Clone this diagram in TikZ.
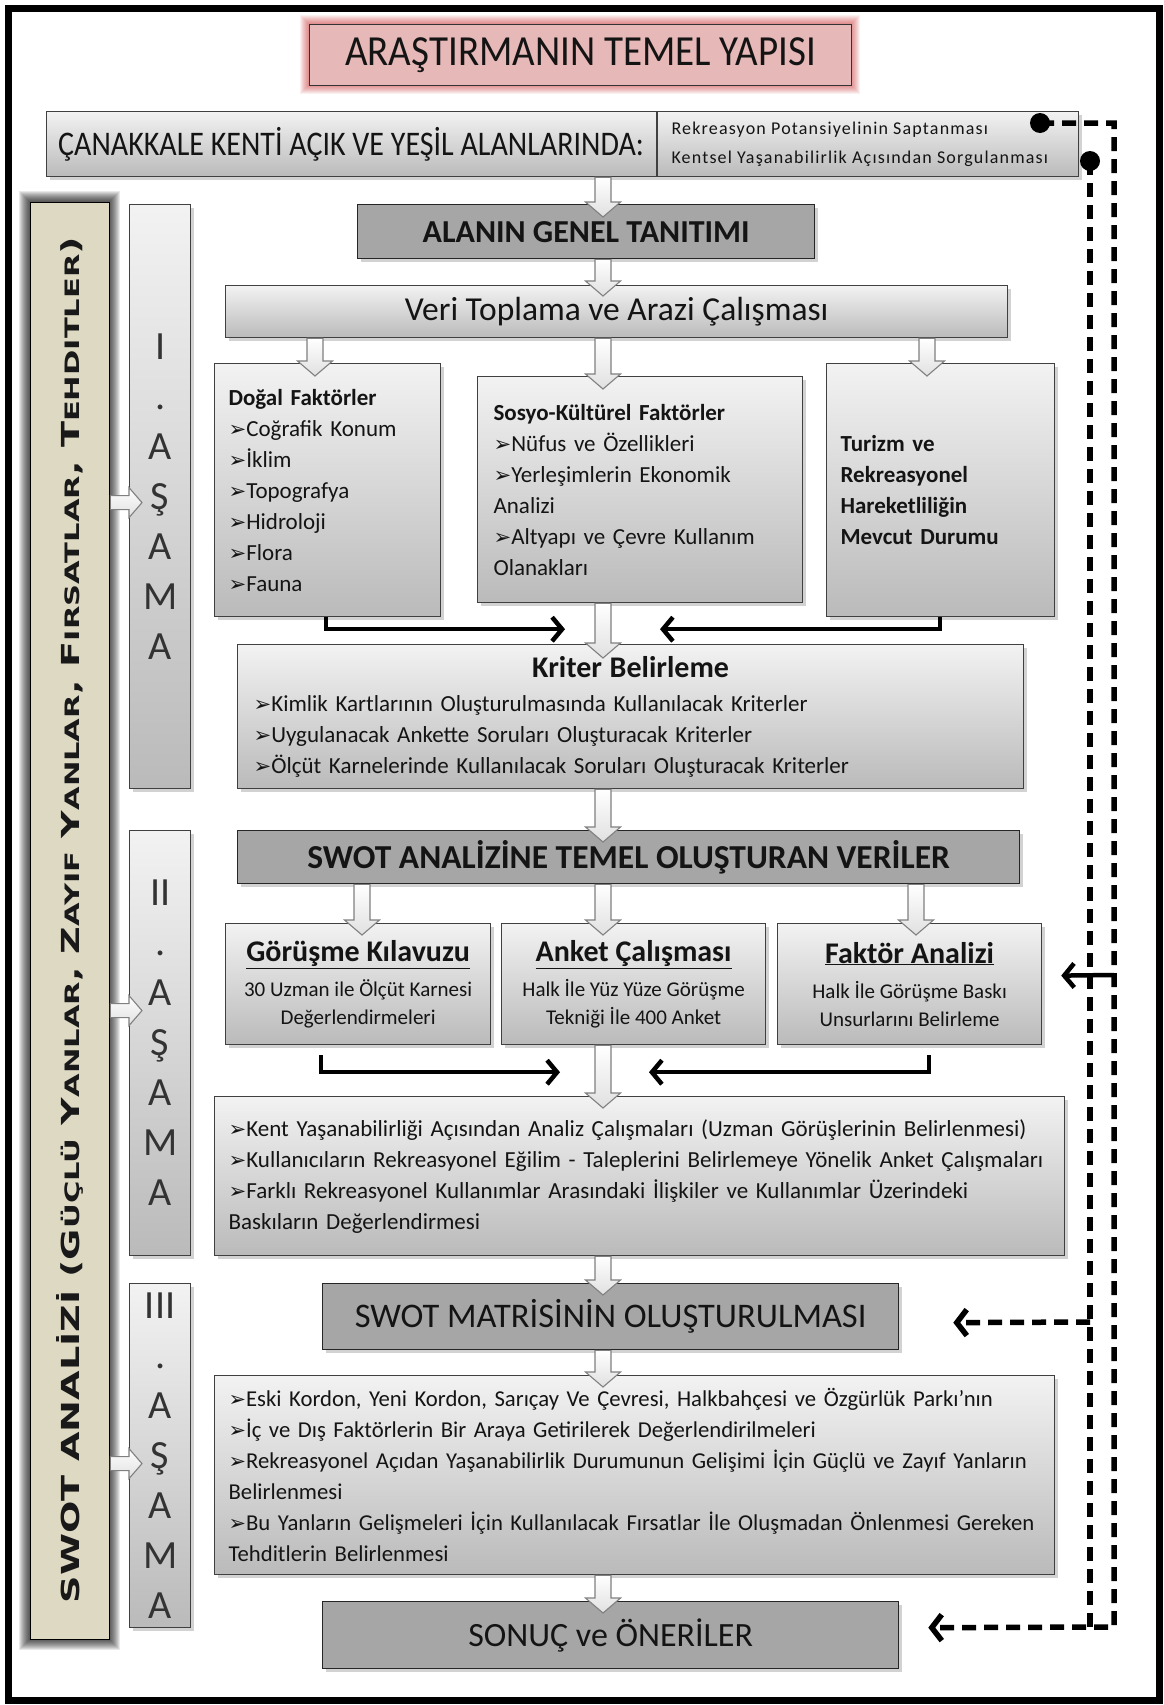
\documentclass[tikz,border=0pt]{standalone}
\usepackage{fontspec}
\usepackage{graphicx}
\setmainfont{Carlito}
\newfontfamily\djv{DejaVu Sans}
\usetikzlibrary{calc,shadows,arrows.meta}
\newcommand\bul{{\djv\bfseries\scalebox{0.92}{➢}}}
\newcommand\smc[1]{{\fontsize{8}{8}\selectfont #1}}
\newcommand\fs[2]{\fontsize{#1}{#2}\selectfont}
\newcommand\bdown[2]{\path[barrow] let \p1=(#1), \p2=(#2) in (\x1-8pt,\y1) -- (\x1+8pt,\y1) -- (\x1+8pt,\y2+15pt) -- (\x1+17.5pt,\y2+15pt) -- (\x1,\y2) -- (\x1-17.5pt,\y2+15pt) -- (\x1-8pt,\y2+15pt) -- cycle;}
\newcommand\bright[2]{\path[barrow] let \p1=(#1), \p2=(#2) in (\x1,\y1+7pt) -- (\x2-13pt,\y1+7pt) -- (\x2-13pt,\y1+15pt) -- (\x2,\y1) -- (\x2-13pt,\y1-15pt) -- (\x2-13pt,\y1-7pt) -- (\x1,\y1-7pt) -- cycle;}
\begin{document}
\begin{tikzpicture}[x=1pt,y=-1pt,
  shd/.style={drop shadow={shadow xshift=3pt,shadow yshift=-3pt,opacity=0.35}},
  lightbox/.style={draw=black!75,line width=1.2pt,top color=black!5,bottom color=black!27,shd,inner sep=0pt,text=black!92},
  darkbox/.style={draw=black!85,line width=1.3pt,fill=black!35,shd,inner sep=0pt,text=black!92},
  titlebox/.style={draw=black!80,line width=1.3pt,fill={rgb,255:red,230;green,184;blue,183},inner sep=0pt,text=black!92},
  stagebox/.style={lightbox,text=black!80,align=center,font=\fs{40}{50}},
  barrow/.style={draw=black!50,line width=1.1pt,top color=white,bottom color=black!12},
  blk/.style={line width=4.5pt,-{Straight Barb[length=10pt,width=24pt]}},
  dashline/.style={line width=5.5pt,dash pattern=on 14pt off 8pt},
  dotn/.style={circle,fill=black,minimum size=20pt,inner sep=0pt},
  body/.style={align=left,font=\fs{23}{31}},
]
\useasboundingbox (0,0) rectangle (1163,1705);
\fill[white] (0,0) rectangle (1163,1705);
\draw[line width=7pt] (8,8) rectangle (1159,1700);

% title
\foreach \i in {1,...,9} {\fill[red!75!black,opacity=0.06] (309-\i,24-\i) rectangle (851+\i,85+\i);}
\node[titlebox,minimum width=542pt,minimum height=61pt,anchor=north west,font=\fs{39}{39}] (title) at (309,24) {\scalebox{1}[1.1]{ARAŞTIRMANIN TEMEL YAPISI}};

% top box
\node[lightbox,minimum width=1032pt,minimum height=65pt,anchor=north west] (ca) at (46,111) {};
\draw[line width=1.2pt,black!75] ($(ca.north west)+(611,0)$) -- ($(ca.south west)+(611,0)$);
\node[font=\fs{30}{30},text=black!92] (cal) at (351,144) {\scalebox{1}[1.15]{ÇANAKKALE KENTİ AÇIK VE YEŞİL ALANLARINDA:}};
\node[anchor=west,align=left,font=\fs{18}{29}\addfontfeature{LetterSpace=6.5},text=black!92] (car) at (668,144) {Rekreasyon Potansiyelinin Saptanması\\Kentsel Yaşanabilirlik Açısından Sorgulanması};

\coordinate (spine) at (603,0);
\coordinate (c1) at (315,0);
\coordinate (c3) at (927,0);
\coordinate (d1) at (362,0);
\coordinate (d3) at (916,0);
\coordinate (e1) at (326,0);
\coordinate (e3) at (940,0);
\coordinate (f1) at (321,0);
\coordinate (f3) at (929,0);

% main column
\node[darkbox,minimum width=457pt,minimum height=54pt,anchor=north west,font=\fs{32}{32}\bfseries] (alan) at (357,204) {ALANIN GENEL TANITIMI};
\node[lightbox,minimum width=782pt,minimum height=52pt,anchor=north west,font=\fs{33.5}{33.5}] (veri) at (225,285) {Veri Toplama ve Arazi Çalışması};

\node[lightbox,body,minimum width=226pt,minimum height=253pt,text width=198pt,inner xsep=14pt,anchor=north west] (dogal) at (214,363)
 {\textbf{Doğal Faktörler}\\\bul Coğrafik Konum\\\bul İklim\\\bul Topografya\\\bul Hidroloji\\\bul Flora\\\bul Fauna};
\node[lightbox,body,minimum width=325pt,minimum height=226pt,text width=293pt,inner xsep=16pt,anchor=north west] (sosyo) at (477,376)
 {\textbf{Sosyo-Kültürel Faktörler}\\\bul Nüfus ve Özellikleri\\\bul Yerleşimlerin Ekonomik\\Analizi\\\bul Altyapı ve Çevre Kullanım\\Olanakları};
\node[lightbox,body,minimum width=228pt,minimum height=253pt,text width=200pt,inner xsep=14pt,anchor=north west,font=\fs{23}{31}\bfseries] (turizm) at (826,363)
 {Turizm ve\\Rekreasyonel\\Hareketliliğin\\Mevcut Durumu};

\node[lightbox,body,minimum width=782pt,minimum height=144pt,text width=754pt,inner xsep=16pt,anchor=north west] (kriter) at (237,644)
 {\makebox[754pt]{\fs{30}{31}\bfseries Kriter Belirleme}\\[3pt]\bul Kimlik Kartlarının Oluşturulmasında Kullanılacak Kriterler\\\bul Uygulanacak Ankette Soruları Oluşturacak Kriterler\\\bul Ölçüt Karnelerinde Kullanılacak Soruları Oluşturacak Kriterler};

\node[darkbox,minimum width=782pt,minimum height=53pt,anchor=north west,font=\fs{33.5}{33.5}\bfseries] (swotv) at (237,830) {SWOT ANALİZİNE TEMEL OLUŞTURAN VERİLER};

\node[lightbox,align=center,minimum width=265pt,minimum height=121pt,anchor=north west,font=\fs{21}{28}] (gorusme) at (225,923)
 {{\fs{30}{28}\bfseries\underline{Görüşme Kılavuzu}}\\[7pt]30 Uzman ile Ölçüt Karnesi\\Değerlendirmeleri};
\node[lightbox,align=center,minimum width=264pt,minimum height=121pt,anchor=north west,font=\fs{21}{28}] (anket) at (501,923)
 {{\fs{30}{28}\bfseries\underline{Anket Çalışması}}\\[7pt]Halk İle Yüz Yüze  Görüşme\\Tekniği İle 400 Anket};
\node[lightbox,align=center,minimum width=264pt,minimum height=121pt,anchor=north west,font=\fs{21}{28}] (faktor) at (777,923)
 {{\fs{30}{28}\bfseries\underline{Faktör Analizi}}\\[7pt]Halk İle Görüşme Baskı\\Unsurlarını Belirleme};

\node[lightbox,body,minimum width=850pt,minimum height=159pt,text width=822pt,inner xsep=14pt,anchor=north west] (analiz) at (214,1096)
 {\mbox{\bul Kent Yaşanabilirliği Açısından Analiz Çalışmaları (Uzman Görüşlerinin Belirlenmesi)}\\\mbox{\bul Kullanıcıların Rekreasyonel Eğilim  - Taleplerini Belirlemeye Yönelik Anket Çalışmaları}\\\mbox{\bul Farklı Rekreasyonel Kullanımlar Arasındaki İlişkiler ve Kullanımlar Üzerindeki}\\Baskıların Değerlendirmesi};

\node[darkbox,minimum width=576pt,minimum height=66pt,anchor=north west,font=\fs{34.5}{34.5}] (matris) at (322,1283) {SWOT MATRİSİNİN OLUŞTURULMASI};

\node[lightbox,body,minimum width=840pt,minimum height=199pt,text width=812pt,inner xsep=14pt,anchor=north west,font=\fs{22.7}{31}] (eski) at (214,1375)
 {\mbox{\bul Eski Kordon, Yeni Kordon, Sarıçay Ve Çevresi, Halkbahçesi ve Özgürlük Parkı’nın}\\\mbox{\bul İç ve Dış Faktörlerin Bir Araya Getirilerek Değerlendirilmeleri}\\\mbox{\bul Rekreasyonel Açıdan Yaşanabilirlik Durumunun Gelişimi İçin Güçlü ve Zayıf Yanların}\\Belirlenmesi\\\mbox{\bul Bu Yanların Gelişmeleri İçin Kullanılacak Fırsatlar İle Oluşmadan Önlenmesi Gereken}\\Tehditlerin Belirlenmesi};

\node[darkbox,minimum width=576pt,minimum height=67pt,anchor=north west,font=\fs{34}{34}] (sonuc) at (322,1601) {SONUÇ ve ÖNERİLER};

% left side
\foreach \i in {1,...,11} {\fill[black,opacity=0.085] (30-\i,202-\i) rectangle (109+\i,1639+\i);}
\node[draw=black,line width=1.3pt,fill={rgb,255:red,221;green,217;blue,195},minimum width=79pt,minimum height=1437pt,anchor=north west,inner sep=0pt] (swotbox) at (30,202) {};
\node[rotate=90,text=black!90] (swottext) at (70,920) {\resizebox{1366pt}{23pt}{\djv\bfseries\fs{10}{10}SWOT ANALİZİ (G\smc{ÜÇLÜ} Y\smc{ANLAR}, Z\smc{AYIF} Y\smc{ANLAR}, F\smc{IRSATLAR}, T\smc{EHDITLER})}};

\node[stagebox,minimum width=61pt,minimum height=584pt,anchor=north west] (st1) at (129,204) {I\\.\\A\\Ş\\A\\M\\A};
\node[stagebox,minimum width=61pt,minimum height=425pt,anchor=north west] (st2) at (129,830) {II\\.\\A\\Ş\\A\\M\\A};
\node[stagebox,minimum width=61pt,minimum height=344pt,anchor=north west] (st3) at (129,1283) {III\\.\\A\\Ş\\A\\M\\A};

\bright{$(swotbox.east |- st1.west)+(0,6)$}{$(st1.west)+(13,6)$}
\bright{$(swotbox.east |- st2.west)+(0,-32.5)$}{$(st2.west)+(13,-32.5)$}
\bright{$(swotbox.east |- st3.west)+(0,8)$}{$(st3.west)+(13,8)$}

% block arrows
\bdown{ca.south -| spine}{$(alan.north -| spine)+(0,13)$}
\bdown{alan.south -| spine}{$(veri.north -| spine)+(0,11)$}
\bdown{veri.south -| c1}{$(dogal.north -| c1)+(0,13)$}
\bdown{veri.south -| spine}{$(sosyo.north -| spine)+(0,13)$}
\bdown{veri.south -| c3}{$(turizm.north -| c3)+(0,13)$}
\bdown{sosyo.south -| spine}{$(kriter.north -| spine)+(0,14)$}
\bdown{kriter.south -| spine}{$(swotv.north -| spine)+(0,12)$}
\bdown{swotv.south -| d1}{$(gorusme.north -| d1)+(0,12)$}
\bdown{swotv.south -| spine}{$(anket.north -| spine)+(0,12)$}
\bdown{swotv.south -| d3}{$(faktor.north -| d3)+(0,12)$}
\bdown{anket.south -| spine}{$(analiz.north -| spine)+(0,12)$}
\bdown{analiz.south -| spine}{$(matris.north -| spine)+(0,12)$}
\bdown{matris.south -| spine}{$(eski.north -| spine)+(0,12)$}
\bdown{eski.south -| spine}{$(sonuc.north -| spine)+(0,12)$}

% black bent arrows
\draw[blk] (dogal.south -| e1) |- ($(sosyo.south -| spine)+(-38,26)$);
\draw[blk] (turizm.south -| e3) |- ($(sosyo.south -| spine)+(57,26)$);
\draw[blk] ($(gorusme.south -| f1)+(0,10)$) |- ($(anket.south -| spine)+(-43,27)$);
\draw[blk] ($(faktor.south -| f3)+(0,10)$) |- ($(anket.south -| spine)+(46,27)$);

% feedback lines
\node[dotn] (dot1) at (1040,123) {};
\node[dotn] (dot2) at (1090,161) {};
\coordinate (o1) at (1114,123);
\coordinate (o2) at (1114,1627);
\coordinate (i2) at (1090,1627);
\coordinate (i1) at (1090,1322);
\coordinate (o3) at (1114,975);
\draw[dashline] (dot2.center) -- (i2);
\draw[dashline,-{Straight Barb[length=10pt,width=26pt]}] (dot1.center) -- (o1) -- (o2) -- ($(sonuc.east)+(29,-7.5)$);
\draw[dashline,-{Straight Barb[length=10pt,width=26pt]}] (i1) -- ($(matris.east)+(54,6)$);
\draw[blk] (o3) -- ($(faktor.east)+(19,-8.5)$);
\end{tikzpicture}
\end{document}
